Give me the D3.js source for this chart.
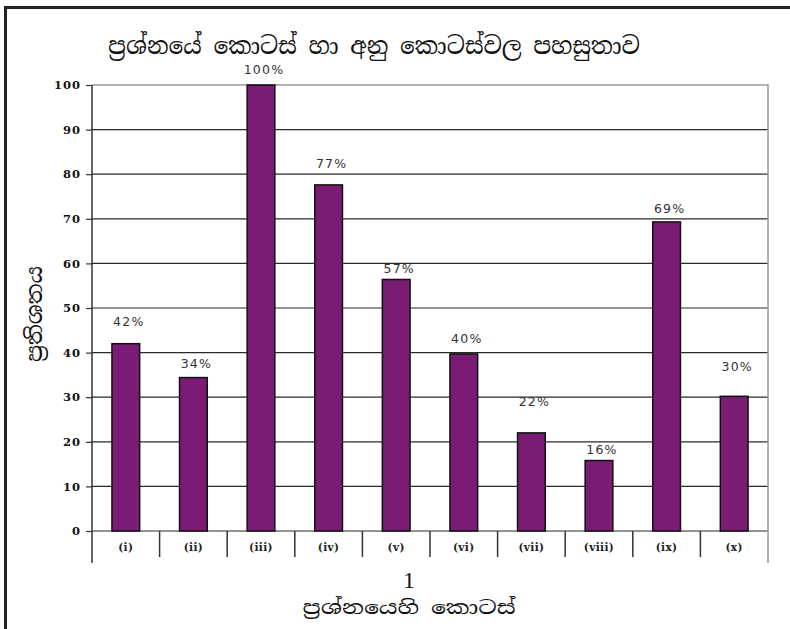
<!DOCTYPE html>
<html>
<head>
<meta charset="utf-8">
<script src="https://cdnjs.cloudflare.com/ajax/libs/d3/7.8.5/d3.min.js"></script>
<style>
  body { margin: 0; background: #fff; }
  .sin { font-family: "Noto Serif Sinhala", "Noto Sans Sinhala", "Iskoola Pota", serif; }
</style>
</head>
<body>
<svg id="lienzo" width="790" height="629"></svg>
<script>
// datos del grafico
const categorias = ['(i)', '(ii)', '(iii)', '(iv)', '(v)', '(vi)', '(vii)', '(viii)', '(ix)', '(x)'];
const valores = [42, 34.4, 100, 77.6, 56.4, 39.7, 22, 15.8, 69.3, 30.2];
const etiquetas = ['42%', '34%', '100%', '77%', '57%', '40%', '22%', '16%', '69%', '30%'];
const ticksY = [0, 10, 20, 30, 40, 50, 60, 70, 80, 90, 100];

const titulo = 'ප්‍රශ්නයේ කොටස් හා අනු කොටස්වල පහසුතාව';
const tituloY = 'ප්‍රතිශතය';
const tituloX1 = '1';
const tituloX2 = 'ප්‍රශ්නයෙහි කොටස්';

// cuanto sube cada etiqueta sobre su barra (px)
const subida = [22, 14, 16, 21, 11, 15, 31, 11, 13, 30];

const svg = d3.select('#lienzo');

const izq = 92, der = 768, arriba = 85, abajo = 531, pie = 563;

const x = d3.scaleBand()
    .domain(categorias)
    .range([izq, der])
    .paddingInner(0.59)
    .paddingOuter(0.295);

const y = d3.scaleLinear()
    .domain([0, 100])
    .range([abajo, arriba]);

// marco exterior
svg.append('path')
    .attr('d', `M5.5,629 L5.5,7.5 L790,7.5`)
    .attr('fill', 'none')
    .attr('stroke', '#222')
    .attr('stroke-width', 3);

// lineas de la cuadricula
svg.append('g')
    .selectAll('line')
    .data(ticksY.filter(d => d < 100))
    .enter()
    .append('line')
    .attr('x1', izq)
    .attr('x2', der)
    .attr('y1', d => y(d))
    .attr('y2', d => y(d))
    .attr('stroke', '#2a2a2a')
    .attr('stroke-width', 1.2);

// borde gris del area de trazado
svg.append('path')
    .attr('d', `M${izq},${y(100)} L${der},${y(100)} L${der},${pie}`)
    .attr('fill', 'none')
    .attr('stroke', '#9a9a9a')
    .attr('stroke-width', 1.5);

// eje Y
const ejeY = svg.append('g')
    .attr('transform', `translate(${izq},0)`)
    .call(d3.axisLeft(y).tickValues(ticksY).tickSize(6).tickPadding(5));
ejeY.select('.domain').remove();
ejeY.selectAll('.tick line').attr('stroke', '#333').attr('stroke-width', 1.2);
ejeY.selectAll('.tick text')
    .attr('font-family', '"DejaVu Serif", serif')
    .attr('font-weight', 'bold')
    .attr('font-size', '11.5px')
    .attr('letter-spacing', '1px')
    .attr('fill', '#111');

svg.append('line')
    .attr('x1', izq).attr('x2', izq)
    .attr('y1', arriba).attr('y2', pie)
    .attr('stroke', '#333')
    .attr('stroke-width', 1.5);

// separadores de categorias bajo el eje
svg.append('g')
    .selectAll('line')
    .data(categorias.slice(1))
    .enter()
    .append('line')
    .attr('x1', d => x(d) - x.step() * x.paddingInner() / 2)
    .attr('x2', d => x(d) - x.step() * x.paddingInner() / 2)
    .attr('y1', abajo)
    .attr('y2', pie - 6)
    .attr('stroke', '#333')
    .attr('stroke-width', 1.5);

// barras
svg.append('g')
    .selectAll('rect')
    .data(valores)
    .enter()
    .append('rect')
    .attr('x', (d, i) => x(categorias[i]))
    .attr('y', d => y(d))
    .attr('width', x.bandwidth())
    .attr('height', d => abajo - y(d))
    .attr('fill', '#7a1b74')
    .attr('stroke', '#111')
    .attr('stroke-width', 1.5);

// etiquetas de las barras
svg.append('g')
    .selectAll('text')
    .data(etiquetas)
    .enter()
    .append('text')
    .attr('x', (d, i) => x(categorias[i]) + x.bandwidth() / 2 + 3)
    .attr('y', (d, i) => y(valores[i]) - subida[i])
    .attr('text-anchor', 'middle')
    .attr('dominant-baseline', 'central')
    .attr('font-family', '"DejaVu Sans", Verdana, sans-serif')
    .attr('font-size', '12.5px')
    .attr('letter-spacing', '1.2px')
    .attr('fill', '#333')
    .text(d => d);

// nombres de categorias
svg.append('g')
    .selectAll('text')
    .data(categorias)
    .enter()
    .append('text')
    .attr('x', d => x(d) + x.bandwidth() / 2)
    .attr('y', 547)
    .attr('text-anchor', 'middle')
    .attr('dominant-baseline', 'central')
    .attr('font-family', '"DejaVu Serif", serif')
    .attr('font-weight', 'bold')
    .attr('font-size', '10.5px')
    .attr('letter-spacing', '0.4px')
    .attr('fill', '#222')
    .text(d => d);

// titulo
svg.append('text')
    .attr('class', 'sin')
    .attr('x', 374)
    .attr('y', 54)
    .attr('text-anchor', 'middle')
    .attr('font-size', '24px')
    .attr('textLength', 532)
    .attr('lengthAdjust', 'spacingAndGlyphs')
    .attr('fill', '#111')
    .text(titulo);

// titulo del eje Y
svg.append('text')
    .attr('class', 'sin')
    .attr('transform', 'translate(42,314) rotate(-90)')
    .attr('text-anchor', 'middle')
    .attr('font-size', '22px')
    .attr('textLength', 96)
    .attr('lengthAdjust', 'spacingAndGlyphs')
    .attr('fill', '#111')
    .text(tituloY);

// titulo del eje X
svg.append('text')
    .attr('x', 409)
    .attr('y', 588)
    .attr('text-anchor', 'middle')
    .attr('font-family', '"Liberation Serif", serif')
    .attr('font-size', '24px')
    .attr('fill', '#111')
    .text(tituloX1);

svg.append('text')
    .attr('class', 'sin')
    .attr('x', 409)
    .attr('y', 614)
    .attr('text-anchor', 'middle')
    .attr('font-size', '19px')
    .attr('textLength', 213)
    .attr('lengthAdjust', 'spacingAndGlyphs')
    .attr('fill', '#111')
    .text(tituloX2);
</script>
</body>
</html>
